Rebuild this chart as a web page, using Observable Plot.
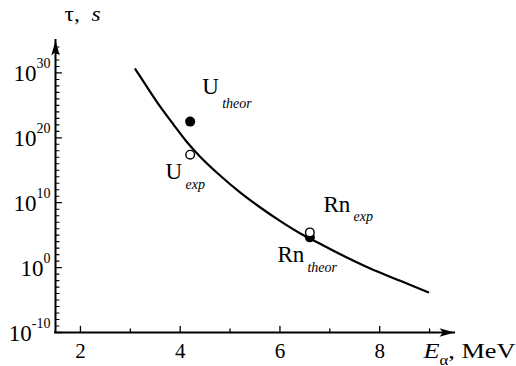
<!DOCTYPE html>
<html>
<head>
<meta charset="utf-8">
<script src="https://cdn.jsdelivr.net/npm/d3@7"></script>
<script src="https://cdn.jsdelivr.net/npm/@observablehq/plot@0.6"></script>
<style>
  html, body { margin: 0; padding: 0; background: #fff; }
  #chart svg { display: block; }
</style>
</head>
<body>
<div id="chart"></div>
<script>
// Alpha-decay lifetime τ versus alpha-particle energy E_α (log scale).

// Theoretical curve: energy (MeV) and log10 of lifetime (s)
const curveEnergy = [3.10, 3.33, 3.60, 3.87, 4.13, 4.40, 4.80, 5.20, 5.60, 6.00, 6.40, 6.60, 7.20, 7.80, 8.40, 8.97];
const curveLogTau = [30.6, 27.9, 24.8, 22.0, 19.4, 17.1, 14.2, 11.6, 9.3, 7.2, 5.3, 4.5, 2.1, -0.1, -2.0, -3.8];

// Individual nuclei: theoretical (filled) and experimental (open) values
const pointName = ["U", "U", "Rn", "Rn"];
const pointKind = ["theor", "exp", "theor", "exp"];
const pointEnergy = [4.2, 4.2, 6.6, 6.6];
const pointLogTau = [22.5, 17.4, 4.66, 5.43];

// Axis ticks and titles
const xTickValues = [2, 4, 6, 8];
const xMinorValues = [3, 5, 7, 9];
const yTickExponents = [-10, 0, 10, 20, 30];
const yMinorExponents = d3.range(-10, 35).filter(e => e % 10 !== 0);
const yTitle = "τ,\u00A0\u00A0*s*";
const xTitle = "*E*_{α}, MeV";

const xDomain = [1.5, 9.5];
const yDomainExp = [-10, 35];

const curve = curveEnergy.map((E, i) => ({E, tau: 10 ** curveLogTau[i]}));
const points = pointEnergy.map((E, i) => ({
  E, tau: 10 ** pointLogTau[i], name: pointName[i], kind: pointKind[i]
}));

// Label placement around each nucleus (pixel offsets from its point)
const labelOffsets = {
  "U theor":  {main: [12, -27.7],  sub: [32, -13.7]},
  "U exp":    {main: [-24.7, 23.8], sub: [-4.7, 33.8]},
  "Rn exp":   {main: [13.6, -19.9], sub: [43.6, -10.9]},
  "Rn theor": {main: [-32.4, 25.1], sub: [-2.4, 35.1]}
};

// Axis titles are set a little wide
const titleWidths = {[yTitle]: 36, [xTitle]: 92};

const serif = "'Liberation Serif', 'Times New Roman', Times, serif";

// A single-stroke tick used for the inward ticks on both axes
const tickShape = {draw(context, l) { context.moveTo(0, 0); context.lineTo(0, -l); }};
// Filled, notched arrowhead pointing up, tip at the origin
const arrowHead = {draw(context) {
  context.moveTo(0, 0);
  context.lineTo(-4.2, 15);
  context.lineTo(0, 11.5);
  context.lineTo(4.2, 15);
  context.closePath();
}};

const yMin = 10 ** yDomainExp[0];
const yMax = 10 ** yDomainExp[1];

const labelMarks = [];
for (const p of points) {
  const off = labelOffsets[`${p.name} ${p.kind}`];
  labelMarks.push(Plot.text([p], {
    x: "E", y: "tau", text: "name", textAnchor: "start", lineAnchor: "bottom",
    dx: off.main[0], dy: off.main[1], fontSize: 23, fontFamily: serif, fill: "black"
  }));
  labelMarks.push(Plot.text([p], {
    x: "E", y: "tau", text: "kind", textAnchor: "start", lineAnchor: "bottom",
    dx: off.sub[0], dy: off.sub[1], fontSize: 14, fontStyle: "italic", fontFamily: serif, fill: "black"
  }));
}

const chart = Plot.plot({
  width: 516,
  height: 366,
  marginLeft: 55,
  marginRight: 62,
  marginTop: 40,
  marginBottom: 34,
  style: {fontFamily: serif, color: "black", background: "white", overflow: "visible"},
  x: {domain: xDomain, axis: null},
  y: {type: "log", domain: [yMin, yMax], axis: null},
  marks: [
    // axis lines
    Plot.ruleX([xDomain[0]], {y1: yMin, y2: yMax, strokeWidth: 2, stroke: "black", strokeLinecap: "square"}),
    Plot.ruleY([yMin], {x1: xDomain[0], x2: xDomain[1], strokeWidth: 2, stroke: "black", strokeLinecap: "square"}),
    // arrowheads at the axis ends
    Plot.dot([{x: xDomain[0], y: yMax}], {x: "x", y: "y", symbol: arrowHead, fill: "black", stroke: null, r: 5}),
    Plot.dot([{x: xDomain[1], y: yMin}], {x: "x", y: "y", symbol: arrowHead, fill: "black", stroke: null, r: 5, rotate: 90}),
    // inward ticks
    Plot.vector(xTickValues, {x: d => d, y: yMin, length: 6, anchor: "start", shape: tickShape, stroke: "black", strokeWidth: 1.3}),
    Plot.vector(xMinorValues, {x: d => d, y: yMin, length: 3.5, anchor: "start", shape: tickShape, stroke: "black", strokeWidth: 1.3}),
    Plot.vector(yTickExponents, {x: xDomain[0], y: d => 10 ** d, length: 6, rotate: 90, anchor: "start", shape: tickShape, stroke: "black", strokeWidth: 1.3}),
    Plot.vector(yMinorExponents, {x: xDomain[0], y: d => 10 ** d, length: 3.5, rotate: 90, anchor: "start", shape: tickShape, stroke: "black", strokeWidth: 1.1}),
    // tick labels
    Plot.text(xTickValues, {x: d => d, y: yMin, text: d => String(d), dy: 25, lineAnchor: "bottom",
      fontSize: 21, fontFamily: serif, fill: "black"}),
    Plot.text(yTickExponents, {
      x: xDomain[0], y: d => 10 ** d, text: d => `10^{${d}}`, textAnchor: "end", lineAnchor: "bottom",
      dx: -5, dy: 8, fontSize: 23, fontFamily: serif, fill: "black"
    }),
    // axis titles
    Plot.text([yTitle], {frameAnchor: "top-left", text: d => d, textAnchor: "start", lineAnchor: "bottom",
      dx: 9, dy: -20, fontSize: 22, fontFamily: serif, fill: "black"}),
    Plot.text([xTitle], {frameAnchor: "bottom-right", text: d => d, textAnchor: "start", lineAnchor: "bottom",
      dx: -31, dy: 25, fontSize: 22, fontFamily: serif, fill: "black"}),
    // theoretical curve
    Plot.line(curve, {x: "E", y: "tau", curve: "catmull-rom", stroke: "black", strokeWidth: 2.2}),
    // nuclei
    Plot.dot(points.filter(d => d.kind === "theor"), {x: "E", y: "tau", r: 5, fill: "black", stroke: null}),
    Plot.dot(points.filter(d => d.kind === "exp"), {x: "E", y: "tau", r: 4.3, fill: "white", stroke: "black", strokeWidth: 1.4}),
    ...labelMarks
  ]
});

// Turn ^{..}, _{..} and *..* markup into superscript, subscript and italic tspans
const svgNS = "http://www.w3.org/2000/svg";
function richText(el, supSize = 14, supShift = 13, subSize = 14, subShift = 7) {
  const src = el.textContent;
  const parts = src.match(/\^\{[^}]*\}|_\{[^}]*\}|\*[^*]*\*|[^^_*]+/g) || [];
  el.textContent = "";
  let offset = 0;
  for (const p of parts) {
    const t = document.createElementNS(svgNS, "tspan");
    let target = 0;
    if (p.startsWith("^{")) {
      t.textContent = p.slice(2, -1); t.setAttribute("font-size", supSize); target = -supShift;
    } else if (p.startsWith("_{")) {
      t.textContent = p.slice(2, -1); t.setAttribute("font-size", subSize); target = subShift;
    } else if (p.startsWith("*")) {
      t.textContent = p.slice(1, -1); t.setAttribute("font-style", "italic");
    } else {
      t.textContent = p;
    }
    if (target !== offset) { t.setAttribute("dy", target - offset); offset = target; }
    el.appendChild(t);
  }
}
d3.select(chart).selectAll("text")
  .filter(function() { return /\^\{|_\{|\*/.test(this.textContent); })
  .each(function() {
    const width = titleWidths[this.textContent];
    richText(this);
    if (width) {
      this.setAttribute("textLength", width);
      this.setAttribute("lengthAdjust", "spacingAndGlyphs");
    }
  });

document.getElementById("chart").appendChild(chart);
</script>
</body>
</html>
